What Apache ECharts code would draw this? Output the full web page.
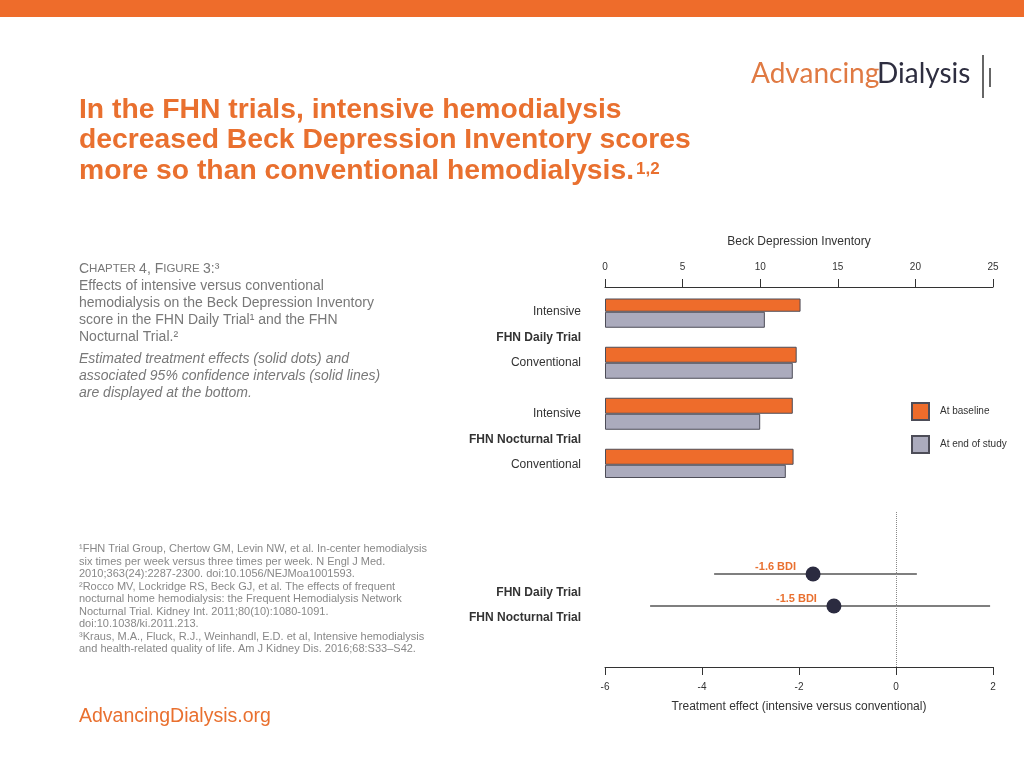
<!DOCTYPE html>
<html><head><meta charset="utf-8">
<script src="https://cdn.jsdelivr.net/npm/echarts@6/dist/echarts.min.js"></script>
<style>html,body{margin:0;padding:0;background:#fff}#c{width:1024px;height:768px}</style>
</head><body><div id="c"></div>
<script>
// ---- data ----
const barArms = ['Intensive', 'Conventional', 'Intensive', 'Conventional'];
const barTrials = ['FHN Daily Trial', 'FHN Nocturnal Trial'];
const baselineBDI = [12.6, 12.35, 12.1, 12.15];
const endOfStudyBDI = [10.3, 12.1, 10.0, 11.65];
const barTicks = { min: 0, max: 25, interval: 5 };
const seriesNames = ['At baseline', 'At end of study'];

const forestTrials = ['FHN Daily Trial', 'FHN Nocturnal Trial'];
const effectEstimate = [-1.71, -1.28];
const ciLower = [-3.75, -5.07];
const ciUpper = [0.43, 1.94];
const effectLabels = ['-1.6 BDI', '-1.5 BDI'];
const forestTicks = { min: -6, max: 2, interval: 2 };

// ---- build slots for bar chart (arm, trial label, arm, gap, ...) ----
const slots = [], baseSlots = [], endSlots = [];
barTrials.forEach((t, ti) => {
  if (ti > 0) { slots.push(''); baseSlots.push('-'); endSlots.push('-'); }
  slots.push(barArms[2 * ti]); baseSlots.push(baselineBDI[2 * ti]); endSlots.push(endOfStudyBDI[2 * ti]);
  slots.push(t); baseSlots.push('-'); endSlots.push('-');
  slots.push(barArms[2 * ti + 1]); baseSlots.push(baselineBDI[2 * ti + 1]); endSlots.push(endOfStudyBDI[2 * ti + 1]);
});
const forestData = forestTrials.map((t, i) => [effectEstimate[i], ciLower[i], ciUpper[i], i]);

const FF = '"Liberation Sans", Arial, Helvetica, sans-serif';
const ORANGE = '#E9702F';
const BAR_ORANGE = '#EE6C2B';
const BAR_GRAY = '#ABABBD';
const BORDER = '#4d4d58';
const AXIS = '#333';
const TITLE_SIZE = 28.3;

// measure for title superscript placement
const mctx = document.createElement('canvas').getContext('2d');
mctx.font = 'bold ' + TITLE_SIZE + 'px ' + FF;
const line3 = 'more so than conventional hemodialysis.';
const line3w = mctx.measureText(line3).width;

const chart = echarts.init(document.getElementById('c'), null, { renderer: 'canvas' });

const grayTxt = '#787878';
const option = {
  backgroundColor: '#fff',
  animation: false,
  textStyle: { fontFamily: FF },
  legend: {
    data: seriesNames, orient: 'vertical', left: 906, top: 397,
    itemWidth: 17, itemHeight: 17, itemGap: 14, icon: 'rect',
    textStyle: { fontSize: 10, color: '#333', fontFamily: FF, padding: [0, 0, 0, 6] },
    selectedMode: false
  },
  grid: [
    { left: 605, right: 31, top: 299, height: 178.5, containLabel: false },
    { left: 605, right: 31, top: 511, height: 156 },
    { left: 605, right: 31, top: 558, height: 64 },
    { left: 605, right: 31, top: 580, height: 50 }
  ],
  xAxis: [
    {
      gridIndex: 0, type: 'value', position: 'top', offset: 12,
      min: barTicks.min, max: barTicks.max, interval: barTicks.interval,
      name: 'Beck Depression Inventory', nameLocation: 'middle', nameGap: 39,
      nameTextStyle: { fontSize: 12, color: AXIS, fontFamily: FF },
      axisLine: { show: true, lineStyle: { color: AXIS, width: 1 } },
      axisTick: { show: true, length: 8, lineStyle: { color: AXIS } },
      axisLabel: { fontSize: 10, color: AXIS, margin: 15, fontFamily: FF },
      splitLine: { show: false }
    },
    {
      gridIndex: 1, type: 'value', position: 'bottom',
      min: forestTicks.min, max: forestTicks.max, interval: forestTicks.interval,
      name: 'Treatment effect (intensive versus conventional)', nameLocation: 'middle', nameGap: 34,
      nameTextStyle: { fontSize: 12, color: AXIS, fontFamily: FF },
      axisLine: { show: true, lineStyle: { color: AXIS, width: 1 } },
      axisTick: { show: true, length: 8, lineStyle: { color: AXIS } },
      axisLabel: { fontSize: 10, color: AXIS, margin: 15, fontFamily: FF },
      splitLine: { show: false }
    },
    { gridIndex: 2, type: 'value', min: forestTicks.min, max: forestTicks.max, show: false },
    { gridIndex: 3, type: 'value', min: forestTicks.min, max: forestTicks.max, show: false }
  ],
  yAxis: [
    {
      gridIndex: 0, type: 'category', inverse: true, data: slots,
      axisLine: { show: false }, axisTick: { show: false },
      axisLabel: {
        margin: 24, fontSize: 12, color: AXIS, fontFamily: FF,
        formatter: (v) => barTrials.indexOf(v) >= 0 ? '{b|' + v + '}' : v,
        rich: { b: { fontWeight: 'bold', fontSize: 12, color: AXIS, fontFamily: FF } }
      }
    },
    { gridIndex: 1, type: 'value', min: 0, max: 1, show: false },
    { gridIndex: 2, type: 'category', inverse: true, data: forestTrials, show: false },
    {
      gridIndex: 3, type: 'category', inverse: true, data: forestTrials,
      axisLine: { show: false }, axisTick: { show: false },
      axisLabel: { margin: 24, fontSize: 12, fontWeight: 'bold', color: AXIS, fontFamily: FF }
    }
  ],
  series: [
    {
      name: seriesNames[0], type: 'bar', xAxisIndex: 0, yAxisIndex: 0, data: baseSlots,
      barWidth: 16, barGap: '0%',
      itemStyle: { color: BAR_ORANGE, borderColor: BORDER, borderWidth: 1 }
    },
    {
      name: seriesNames[1], type: 'bar', xAxisIndex: 0, yAxisIndex: 0, data: endSlots,
      barWidth: 16, barGap: '0%',
      itemStyle: { color: BAR_GRAY, borderColor: BORDER, borderWidth: 1 }
    },
    {
      type: 'line', xAxisIndex: 1, yAxisIndex: 1, data: [], silent: true,
      markLine: {
        silent: true, symbol: 'none', label: { show: false },
        lineStyle: { type: 'dotted', color: '#888', width: 1 },
        data: [{ xAxis: 0 }]
      }
    },
    {
      type: 'custom', xAxisIndex: 2, yAxisIndex: 2, data: forestData,
      encode: { x: [0, 1, 2], y: 3 }, silent: true,
      renderItem: (params, api) => {
        const r = api.value(3);
        const pl = api.coord([api.value(1), r]);
        const ph = api.coord([api.value(2), r]);
        const pe = api.coord([api.value(0), r]);
        return {
          type: 'group', children: [
            { type: 'line', shape: { x1: pl[0], y1: pl[1], x2: ph[0], y2: ph[1] }, style: { stroke: '#555', lineWidth: 1.5 } },
            { type: 'circle', shape: { cx: pe[0], cy: pe[1], r: 7.5 }, style: { fill: '#2B2B40' } },
            { type: 'text', x: pe[0] - 17, y: pe[1] - 7, style: { text: effectLabels[params.dataIndex], fill: ORANGE, fontSize: 11, fontWeight: 'bold', fontFamily: FF, align: 'right', verticalAlign: 'middle' } }
          ]
        };
      }
    },
    { type: 'line', xAxisIndex: 3, yAxisIndex: 3, data: [], silent: true }
  ],
  graphic: [
    { type: 'rect', shape: { x: 0, y: 0, width: 1024, height: 17 }, style: { fill: BAR_ORANGE }, silent: true },
    // logo
    { type: 'text', x: 751, y: 74, style: { text: 'Advancing', fill: '#E07A43', fontSize: 28, fontFamily: 'Lato, "Open Sans", sans-serif', verticalAlign: 'middle' } },
    { type: 'text', x: 877, y: 74, style: { text: 'Dialysis', fill: '#2E2E40', fontSize: 28, fontFamily: 'Lato, "Open Sans", sans-serif', verticalAlign: 'middle' } },
    { type: 'line', shape: { x1: 983, y1: 55, x2: 983, y2: 98 }, style: { stroke: '#333', lineWidth: 1.5 } },
    { type: 'line', shape: { x1: 990, y1: 68, x2: 990, y2: 87 }, style: { stroke: '#333', lineWidth: 1.5 } },
    // title
    { type: 'text', x: 79, y: 110, style: { text: 'In the FHN trials, intensive hemodialysis', fill: ORANGE, fontSize: TITLE_SIZE, fontWeight: 'bold', fontFamily: FF, verticalAlign: 'middle' } },
    { type: 'text', x: 79, y: 140.5, style: { text: 'decreased Beck Depression Inventory scores', fill: ORANGE, fontSize: TITLE_SIZE, fontWeight: 'bold', fontFamily: FF, verticalAlign: 'middle' } },
    { type: 'text', x: 79, y: 171, style: { text: line3, fill: ORANGE, fontSize: TITLE_SIZE, fontWeight: 'bold', fontFamily: FF, verticalAlign: 'middle' } },
    { type: 'text', x: 79 + line3w + 2, y: 169.5, style: { text: '1,2', fill: ORANGE, fontSize: 17, fontWeight: 'bold', fontFamily: FF, verticalAlign: 'middle' } },
    // chapter caption
    { type: 'text', x: 79, y: 269, style: {
        text: '{c|C}{s|HAPTER} {c|4, F}{s|IGURE} {c|3:³}',
        verticalAlign: 'middle',
        rich: { c: { fontSize: 14, fill: grayTxt, color: grayTxt, fontFamily: FF }, s: { fontSize: 11.5, fill: grayTxt, color: grayTxt, fontFamily: FF } }
      } },
    { type: 'text', x: 79, y: 277.5, style: {
        text: 'Effects of intensive versus conventional\nhemodialysis on the Beck Depression Inventory\nscore in the FHN Daily Trial¹ and the FHN\nNocturnal Trial.²',
        fill: grayTxt, fontSize: 14, lineHeight: 17, fontFamily: FF, verticalAlign: 'top' } },
    { type: 'text', x: 79, y: 350.5, style: {
        text: 'Estimated treatment effects (solid dots) and\nassociated 95% confidence intervals (solid lines)\nare displayed at the bottom.',
        fill: grayTxt, fontSize: 14, lineHeight: 17, fontStyle: 'italic', fontFamily: FF, verticalAlign: 'top' } },
    // references
    { type: 'text', x: 79, y: 543, style: {
        text: '¹FHN Trial Group, Chertow GM, Levin NW, et al. In-center hemodialysis\nsix times per week versus three times per week. N Engl J Med.\n2010;363(24):2287-2300. doi:10.1056/NEJMoa1001593.\n²Rocco MV, Lockridge RS, Beck GJ, et al. The effects of frequent\nnocturnal home hemodialysis: the Frequent Hemodialysis Network\nNocturnal Trial. Kidney Int. 2011;80(10):1080-1091.\ndoi:10.1038/ki.2011.213.\n³Kraus, M.A., Fluck, R.J., Weinhandl, E.D. et al, Intensive hemodialysis\nand health-related quality of life. Am J Kidney Dis. 2016;68:S33–S42.',
        fill: '#888', fontSize: 11, lineHeight: 12.5, fontFamily: FF, verticalAlign: 'top' } },
    // footer
    { type: 'text', x: 79, y: 717, style: { text: 'AdvancingDialysis.org', fill: ORANGE, fontSize: 19.5, fontFamily: FF, verticalAlign: 'middle' } }
  ]
};
chart.setOption(option);
</script>
</body></html>
